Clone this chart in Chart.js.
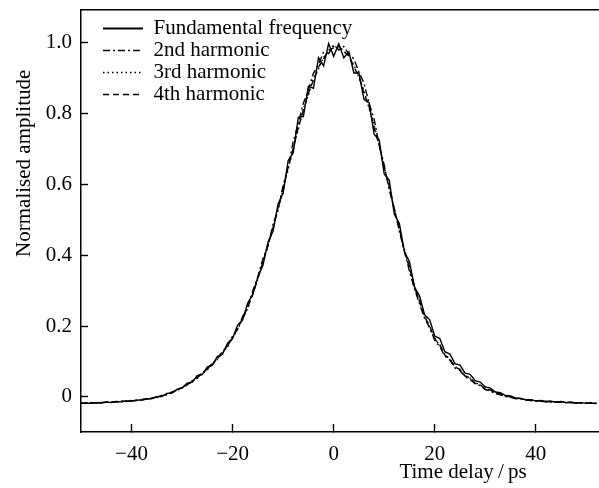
<!DOCTYPE html>
<html>
<head>
<meta charset="utf-8">
<script src="https://cdn.jsdelivr.net/npm/chart.js@4/dist/chart.umd.min.js"></script>
<style>
  body { margin: 0; background: #fff; }
  #wrap { width: 599px; height: 488px; }
</style>
</head>
<body>
<div id="wrap"><canvas id="pulseChart"></canvas></div>
<script>
// time delay, ps
const delay = [-50, -49, -48, -47, -46, -45, -44, -43, -42, -41, -40, -39, -38, -37, -36, -35, -34, -33, -32, -31,
  -30, -29, -28, -27, -26, -25, -24, -23, -22, -21, -20, -19, -18, -17, -16, -15, -14, -13, -12, -11,
  -10, -9, -8, -7, -6, -5, -4, -3, -2, -1, 0, 1, 2, 3, 4, 5, 6, 7, 8, 9,
  10, 11, 12, 13, 14, 15, 16, 17, 18, 19, 20, 21, 22, 23, 24, 25, 26, 27, 28, 29,
  30, 31, 32, 33, 34, 35, 36, 37, 38, 39, 40, 41, 42, 43, 44, 45, 46, 47, 48, 49, 50, 51, 52];

const fundamental = [-0.019, -0.017, -0.018, -0.016, -0.017, -0.014, -0.016, -0.013, -0.014, -0.011,
  -0.012, -0.009, -0.009, -0.005, -0.005, 0.001, 0.001, 0.010, 0.011, 0.022,
  0.025, 0.039, 0.042, 0.060, 0.064, 0.085, 0.090, 0.115, 0.121, 0.152,
  0.165, 0.203, 0.218, 0.266, 0.290, 0.338, 0.372, 0.437, 0.468, 0.545,
  0.575, 0.668, 0.690, 0.790, 0.792, 0.878, 0.872, 0.958, 0.935, 0.998,
  0.962, 0.998, 0.958, 0.975, 0.915, 0.915, 0.840, 0.832, 0.742, 0.726,
  0.630, 0.612, 0.516, 0.490, 0.410, 0.382, 0.310, 0.285, 0.232, 0.218,
  0.172, 0.165, 0.128, 0.121, 0.094, 0.090, 0.067, 0.064, 0.046, 0.042,
  0.028, 0.025, 0.014, 0.012, 0.004, 0.003, -0.003, -0.004, -0.008, -0.008,
  -0.011, -0.010, -0.013, -0.012, -0.015, -0.013, -0.016, -0.015, -0.017, -0.016,
  -0.018, -0.017, -0.019];

const harmonic2 = [-0.018, -0.018, -0.017, -0.017, -0.016, -0.015, -0.015, -0.014, -0.013, -0.012,
  -0.011, -0.010, -0.008, -0.006, -0.003, 0.000, 0.004, 0.007, 0.014, 0.019,
  0.028, 0.034, 0.046, 0.054, 0.069, 0.078, 0.096, 0.107, 0.129, 0.143,
  0.172, 0.192, 0.228, 0.252, 0.300, 0.340, 0.390, 0.428, 0.487, 0.530,
  0.598, 0.648, 0.722, 0.772, 0.830, 0.866, 0.915, 0.938, 0.975, 0.970,
  0.995, 0.980, 0.990, 0.968, 0.955, 0.918, 0.886, 0.830, 0.785, 0.712,
  0.655, 0.585, 0.532, 0.468, 0.412, 0.355, 0.305, 0.262, 0.222, 0.195,
  0.160, 0.142, 0.115, 0.104, 0.082, 0.074, 0.057, 0.050, 0.037, 0.032,
  0.021, 0.017, 0.009, 0.006, 0.001, -0.001, -0.005, -0.006, -0.009, -0.010,
  -0.012, -0.012, -0.014, -0.014, -0.015, -0.015, -0.016, -0.016, -0.017, -0.017,
  -0.018, -0.018, -0.018];

const harmonic3 = [-0.017, -0.018, -0.016, -0.017, -0.015, -0.016, -0.014, -0.015, -0.012, -0.013,
  -0.010, -0.011, -0.007, -0.007, -0.003, -0.002, 0.004, 0.006, 0.013, 0.018,
  0.027, 0.033, 0.044, 0.053, 0.066, 0.077, 0.093, 0.106, 0.125, 0.142,
  0.168, 0.190, 0.222, 0.250, 0.292, 0.334, 0.383, 0.425, 0.480, 0.528,
  0.590, 0.643, 0.706, 0.756, 0.815, 0.852, 0.900, 0.926, 0.960, 0.975,
  0.990, 0.988, 0.978, 0.962, 0.938, 0.902, 0.866, 0.815, 0.768, 0.708,
  0.652, 0.590, 0.532, 0.472, 0.418, 0.362, 0.314, 0.268, 0.230, 0.198,
  0.166, 0.146, 0.120, 0.106, 0.086, 0.077, 0.060, 0.053, 0.040, 0.034,
  0.023, 0.019, 0.011, 0.008, 0.002, 0.000, -0.004, -0.005, -0.008, -0.009,
  -0.011, -0.011, -0.013, -0.013, -0.014, -0.015, -0.015, -0.016, -0.016, -0.017,
  -0.017, -0.018, -0.018];

const harmonic4 = [-0.018, -0.017, -0.017, -0.016, -0.016, -0.015, -0.015, -0.013, -0.013, -0.011,
  -0.011, -0.009, -0.008, -0.005, -0.004, 0.000, 0.003, 0.008, 0.012, 0.020,
  0.026, 0.036, 0.043, 0.056, 0.065, 0.080, 0.091, 0.110, 0.123, 0.147,
  0.166, 0.196, 0.220, 0.256, 0.290, 0.338, 0.380, 0.430, 0.476, 0.535,
  0.586, 0.650, 0.700, 0.762, 0.808, 0.858, 0.895, 0.932, 0.955, 0.980,
  0.986, 0.992, 0.975, 0.965, 0.932, 0.906, 0.858, 0.820, 0.760, 0.712,
  0.645, 0.595, 0.526, 0.476, 0.410, 0.366, 0.308, 0.272, 0.226, 0.200,
  0.163, 0.148, 0.118, 0.108, 0.084, 0.078, 0.059, 0.054, 0.039, 0.035,
  0.022, 0.020, 0.010, 0.009, 0.002, 0.001, -0.004, -0.004, -0.008, -0.008,
  -0.011, -0.011, -0.013, -0.013, -0.014, -0.014, -0.016, -0.015, -0.017, -0.016,
  -0.018, -0.017, -0.018];

const seriesNames = ['Fundamental frequency', '2nd harmonic', '3rd harmonic', '4th harmonic'];
const seriesDash = [[], [7, 3, 2, 3], [1.5, 3], [6, 4]];
const xTicks = [-40, -20, 0, 20, 40];

const serif = '"Liberation Serif", "Times New Roman", serif';

function points(values) {
    return delay.map((t, i) => ({ x: t, y: values[i] }));
}

// legend sits inside the plot, nudge it off the frame
const legendNudge = {
    id: 'legendNudge',
    afterLayout(chart) {
        chart.legend.left = chart.chartArea.left + 21;
        chart.legend.top = chart.chartArea.top + 7;
    }
};

// axis titles are placed off-centre in the original, draw them by hand
const axisTitles = {
    id: 'axisTitles',
    afterDraw(chart) {
        const ctx = chart.ctx;
        const { x, y } = chart.scales;
        ctx.save();
        ctx.font = '21px ' + serif;
        ctx.fillStyle = '#000';
        ctx.textAlign = 'center';
        ctx.textBaseline = 'alphabetic';
        ctx.fillText('Time delay\u2009/\u2009ps', x.getPixelForValue(25.6), x.bottom - 10);
        ctx.translate(24, y.getPixelForValue(0.66));
        ctx.rotate(-Math.PI / 2);
        ctx.textBaseline = 'middle';
        ctx.fillText('Normalised amplitude', 0, 0);
        ctx.restore();
    }
};

function noPadding(s) {
    s.paddingTop = 0;
    s.paddingBottom = 0;
    s.paddingLeft = 0;
    s.paddingRight = 0;
}

const ctx = document.getElementById('pulseChart').getContext('2d');

new Chart(ctx, {
    type: 'line',
    data: {
        datasets: [fundamental, harmonic2, harmonic3, harmonic4].map((vals, i) => ({
            label: seriesNames[i],
            data: points(vals),
            xAxisID: 'x',
            borderColor: '#000',
            borderWidth: 1.4,
            borderDash: seriesDash[i],
            pointRadius: 0,
            tension: 0,
            fill: false
        }))
    },
    options: {
        responsive: true,
        maintainAspectRatio: false,
        animation: false,
        layout: { padding: 0, autoPadding: false },
        plugins: {
            tooltip: { enabled: false },
            legend: {
                position: 'chartArea',
                align: 'start',
                labels: {
                    usePointStyle: true,
                    pointStyle: 'line',
                    pointStyleWidth: 40,
                    padding: 1,
                    color: '#000',
                    font: { family: serif, size: 21 },
                    generateLabels(chart) {
                        const items = Chart.defaults.plugins.legend.labels.generateLabels(chart);
                        items.forEach((item, i) => {
                            item.lineDash = seriesDash[i];
                            item.lineWidth = i === 0 ? 2 : 1.6;
                            item.strokeStyle = '#000';
                            item.fillStyle = 'rgba(0,0,0,0)';
                            item.pointStyle = 'line';
                        });
                        return items;
                    }
                }
            }
        },
        scales: {
            x: {
                type: 'linear',
                position: 'bottom',
                min: -50,
                max: 52.5,
                afterFit: s => { s.height = 56; noPadding(s); },
                afterBuildTicks: s => { s.ticks = xTicks.map(v => ({ value: v })); },
                border: { display: true, color: '#000', width: 1.5 },
                grid: { display: true, drawOnChartArea: false, drawTicks: true, tickLength: -8, tickColor: '#000', tickWidth: 1.4 },
                ticks: {
                    padding: 18,
                    maxRotation: 0,
                    color: '#000',
                    font: { family: serif, size: 21 },
                    callback: v => (v < 0 ? '\u2212' + (-v) : String(v))
                }
            },
            xTop: {
                type: 'linear',
                position: 'top',
                min: -50,
                max: 52.5,
                afterFit: s => { s.height = 10; noPadding(s); },
                border: { display: true, color: '#000', width: 1.5 },
                grid: { display: false, drawTicks: false },
                ticks: { display: false }
            },
            y: {
                type: 'linear',
                position: 'left',
                min: -0.099,
                max: 1.093,
                afterFit: s => { s.width = 81; noPadding(s); },
                border: { display: true, color: '#000', width: 1.5 },
                grid: { display: true, drawOnChartArea: false, drawTicks: true, tickLength: -7, tickColor: '#000', tickWidth: 1.4 },
                ticks: {
                    stepSize: 0.2,
                    includeBounds: false,
                    padding: 16,
                    color: '#000',
                    font: { family: serif, size: 21 },
                    callback: v => (Math.abs(v) < 1e-9 ? '0' : v.toFixed(1))
                }
            }
        }
    },
    plugins: [legendNudge, axisTitles]
});
</script>
</body>
</html>
